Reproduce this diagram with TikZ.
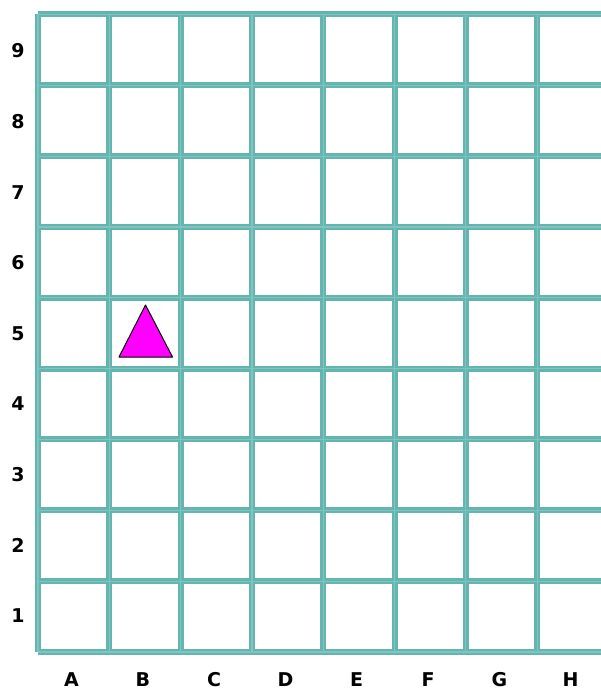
\documentclass[tikz,border=0pt]{standalone}
\usepackage{fontspec}
\setmainfont{DejaVu Sans}
\usetikzlibrary{positioning}
\definecolor{gridteal}{RGB}{100,180,175}
\definecolor{gridlight}{RGB}{128,196,191}
\definecolor{piecemag}{RGB}{255,0,255}

\begin{document}
\begin{tikzpicture}[
    x=1pt, y=-1pt,
    every node/.style={font=\fontsize{19}{22}\selectfont\bfseries},
    gridline/.style={gridteal, line width=6pt},
    gridshine/.style={gridlight, line width=1.2pt},
    piece/.style={fill=piecemag, draw=black, line width=1pt, line join=round}
  ]
    \useasboundingbox (0,0) rectangle (601,690);
    \clip (0,0) rectangle (601,690);
    % board lines
    \foreach \i in {0,...,8} {
      \draw[gridline] (38+71.3*\i,14.5) -- (38+71.3*\i,652);
    }
    \foreach \j in {0,...,9} {
      \draw[gridline] (38,14.5+70.83*\j) -- (610,14.5+70.83*\j);
    }
    \foreach \i in {0,...,8} {
      \draw[gridshine] (38+71.3*\i,14.5) -- (38+71.3*\i,652);
    }
    \foreach \j in {0,...,9} {
      \draw[gridshine] (38,14.5+70.83*\j) -- (610,14.5+70.83*\j);
    }
    % column and row labels
    \foreach \c [count=\i from 0] in {A,B,C,D,E,F,G,H} {
      \node (col\c) at (71.5+71.3*\i,680) {\c};
    }
    \foreach \r [count=\j from 0] in {9,8,7,6,5,4,3,2,1} {
      \node (row\r) at (18,51+70.6*\j) {\r};
    }
    % piece on B5
    \coordinate (apex) at (145.5,305);
    \coordinate (baseL) at (119,357);
    \coordinate (baseR) at (172.5,357);
    \draw[piece] (apex) -- (baseL) -- (baseR) -- cycle;
  \end{tikzpicture}
\end{document}
